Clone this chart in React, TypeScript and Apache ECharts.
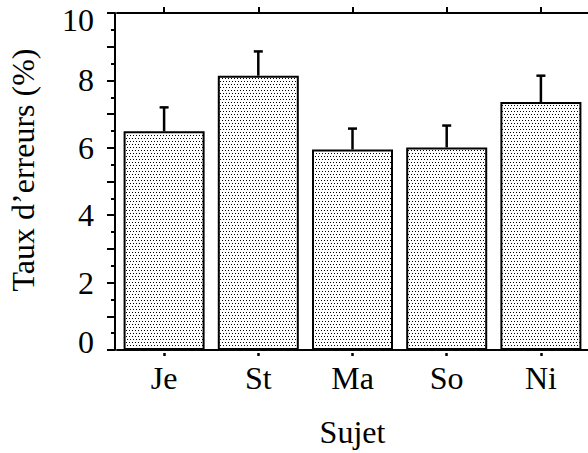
import React, { useEffect, useRef } from "react";
import * as echarts from "echarts";

// Error rate (%) per subject, with the upper half of the error bar
const subjects = ["Je", "St", "Ma", "So", "Ni"];
const errorRates = [6.49, 8.14, 5.95, 6.01, 7.36];
const errorBars = [0.71, 0.72, 0.62, 0.65, 0.78];
const yTicks = [0, 2, 4, 6, 8, 10];

const FONT = "'Liberation Serif', 'Times New Roman', serif";
const labelFont = { fontFamily: FONT, fontSize: 32, color: "#000" };

// Stippled fill: a small tile of black dots on white
function makeStipple(): HTMLCanvasElement {
  const c = document.createElement("canvas");
  c.width = 6;
  c.height = 6;
  const ctx = c.getContext("2d")!;
  ctx.fillStyle = "#ffffff";
  ctx.fillRect(0, 0, 6, 6);
  ctx.fillStyle = "#000000";
  ctx.fillRect(0, 0, 1, 1);
  ctx.fillRect(3, 0, 1, 1);
  ctx.fillRect(1, 3, 1, 1);
  ctx.fillRect(4, 3, 1, 1);
  return c;
}

export default function App() {
  const ref = useRef<HTMLDivElement>(null);

  useEffect(() => {
    if (!ref.current) return;
    const chart = echarts.init(ref.current, null, { renderer: "svg" });
    const stipple = makeStipple();

    chart.setOption({
      animation: false,
      backgroundColor: "#ffffff",
      grid: { left: 117, top: 13, right: -3, bottom: 102 },
      graphic: [
        {
          type: "text",
          x: 23,
          y: 170,
          rotation: Math.PI / 2,
          style: {
            text: "Taux d’erreurs (%)",
            fontFamily: FONT,
            fontSize: 32,
            fill: "#000",
            align: "center",
            verticalAlign: "middle",
          },
        },
      ],
      xAxis: [
        {
          type: "category",
          data: subjects,
          position: "bottom",
          name: "Sujet",
          nameLocation: "middle",
          nameGap: 66,
          nameTextStyle: labelFont,
          axisLine: { show: true, lineStyle: { color: "#000", width: 2 } },
          axisTick: { show: false },
          axisLabel: { ...labelFont, margin: 12 },
        },
        {
          type: "category",
          data: subjects,
          position: "top",
          axisLine: { show: true, lineStyle: { color: "#000", width: 2 } },
          axisTick: {
            show: true,
            alignWithLabel: true,
            length: 6,
            lineStyle: { color: "#000", width: 2 },
          },
          axisLabel: { show: false },
        },
        {
          type: "category",
          data: subjects,
          position: "bottom",
          offset: 3,
          axisLine: { show: false },
          axisTick: {
            show: true,
            alignWithLabel: true,
            length: 3,
            lineStyle: { color: "#000", width: 2.5 },
          },
          axisLabel: { show: false },
        },
      ],
      yAxis: {
        type: "value",
        min: 0,
        max: 10,
        interval: 1,
        offset: 2,
        axisLine: { show: true, lineStyle: { color: "#000", width: 2 } },
        axisTick: { show: true, length: 8, lineStyle: { color: "#000", width: 2 } },
        minorTick: {
          show: true,
          splitNumber: 2,
          length: 4,
          lineStyle: { color: "#000", width: 2 },
        },
        splitLine: { show: false },
        axisLabel: {
          ...labelFont,
          margin: 21,
          formatter: (v: number) => {
            if (!yTicks.includes(v)) return "";
            if (v === 10) return "{top|10}";
            if (v === 0) return "{bottom|0}";
            return String(v);
          },
          rich: {
            top: { ...labelFont, padding: [14, 0, 0, 0] },
            bottom: { ...labelFont, padding: [0, 0, 16, 0] },
          },
        },
      },
      series: [
        {
          type: "bar",
          data: errorRates,
          barCategoryGap: "14%",
          itemStyle: {
            color: { image: stipple, repeat: "repeat" },
            borderColor: "#000",
            borderWidth: 2,
          },
        },
        {
          type: "custom",
          data: errorRates.map((v, i) => [i, v, v + errorBars[i]]),
          z: 3,
          renderItem: (_params: any, api: any) => {
            const i = api.value(0);
            const base = api.coord([i, api.value(1)]);
            const top = api.coord([i, api.value(2)]);
            const half = 4.5;
            const style = { stroke: "#000", lineWidth: 2.5 };
            return {
              type: "group",
              children: [
                {
                  type: "line",
                  shape: { x1: base[0], y1: base[1], x2: top[0], y2: top[1] },
                  style,
                },
                {
                  type: "line",
                  shape: { x1: top[0] - half, y1: top[1], x2: top[0] + half, y2: top[1] },
                  style,
                },
              ],
            };
          },
        },
      ],
    });

    return () => chart.dispose();
  }, []);

  return <div ref={ref} style={{ width: 588, height: 453, position: "absolute", left: 0, top: 0 }} />;
}
